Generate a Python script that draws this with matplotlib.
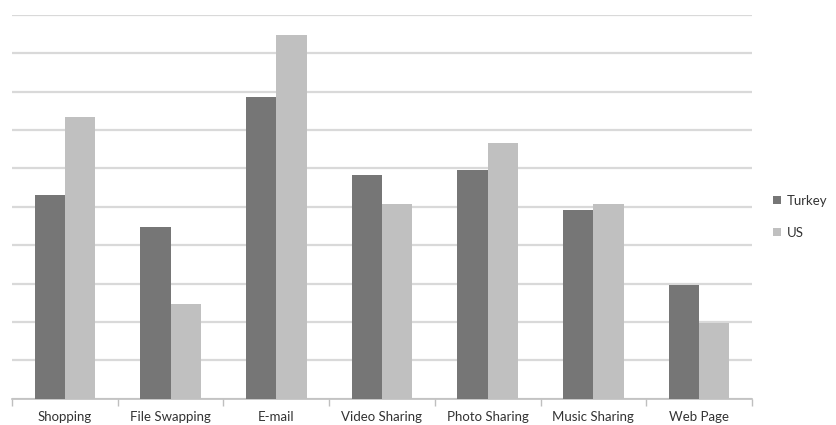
import matplotlib.pyplot as plt
import numpy as np

categories = ['Shopping', 'File Swapping', 'E-mail', 'Video Sharing',
              'Photo Sharing', 'Music Sharing', 'Web Page']
turkey = [5.31, 4.47, 7.87, 5.84, 5.96, 4.91, 2.96]
us = [7.35, 2.47, 9.48, 5.07, 6.67, 5.07, 1.98]

plt.rcParams['font.family'] = ['Lato', 'DejaVu Sans']

fig = plt.figure(figsize=(8.36, 4.25), dpi=100)
ax = fig.add_axes([0.0144, 0.062, 0.885, 0.903])

x = np.arange(len(categories))
w = 0.287
ax.bar(x - w / 2, turkey, w, color='#767676', label='Turkey', zorder=3)
ax.bar(x + w / 2, us, w, color='#c0c0c0', label='US', zorder=3)

ax.set_xlim(-0.5, len(categories) - 0.5)
ax.set_ylim(0, 10)
ax.set_yticks(np.arange(0, 11, 1))
ax.yaxis.grid(True, color='#d9d9d9', linewidth=1.6, zorder=0)
ax.tick_params(axis='y', left=False, labelleft=False)

# category boundaries as tick marks
ax.set_xticks(np.arange(-0.5, len(categories), 1))
ax.set_xticks(x, minor=True)
ax.set_xticklabels([])
ax.set_xticklabels(categories, minor=True, fontsize=9.5, color='#333333')
ax.tick_params(axis='x', which='major', length=5, color='#bfbfbf', width=1)
ax.tick_params(axis='x', which='minor', length=0, pad=9)

for s in ['top', 'right', 'left']:
    ax.spines[s].set_visible(False)
ax.spines['bottom'].set_color('#bfbfbf')
ax.spines['bottom'].set_linewidth(1.2)

fig.legend(loc='center left', bbox_to_anchor=(0.925, 0.49), frameon=False,
           fontsize=9.5, handlelength=0.6, handleheight=0.6, handletextpad=0.4,
           labelspacing=1.5, labelcolor='#333333', borderpad=0,
           borderaxespad=0)

fig.savefig('out.png', dpi=100)
